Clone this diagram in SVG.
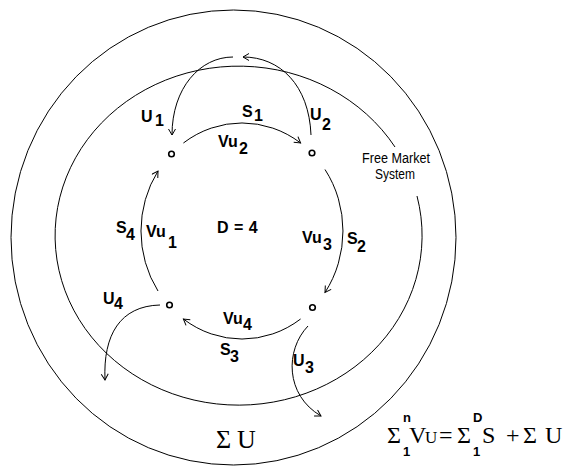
<svg xmlns="http://www.w3.org/2000/svg" width="573" height="468" viewBox="0 0 573 468">
<style>
.ln{fill:none;stroke:#000;stroke-width:1}
.arr{fill:none;stroke:#000;stroke-width:1;marker-end:url(#ah)}
.node{fill:#fff;stroke:#000;stroke-width:1.6}
.lbl{font-family:"Liberation Sans",Arial,sans-serif;font-size:16px;font-weight:bold;fill:#000}
.fm{font-family:"Liberation Sans",Arial,sans-serif;font-size:14px;fill:#000}
.ser{font-family:"Liberation Serif","Times New Roman",serif;fill:#000}
.idx{font-family:"Liberation Sans",Arial,sans-serif;font-weight:bold;font-size:13px;fill:#000}
</style>
<defs>
<marker id="ah" markerWidth="10" markerHeight="10" refX="7" refY="4" orient="auto" markerUnits="userSpaceOnUse">
<path d="M1 0.5 L7 4 L1 7.5" fill="none" stroke="#000" stroke-width="1"/>
</marker>
</defs>
<rect width="573" height="468" fill="#fff"/>
<g id="sum-u-region">
<ellipse class="ln" cx="233.5" cy="237.5" rx="222.5" ry="227.5"/>
<text class="ser" x="216" y="448" font-size="26">Σ</text>
<text class="ser" x="237" y="448" font-size="26">U</text>
</g>
<g id="free-market-system">
<path class="ln" d="M395 147 A183.5 169.5 0 1 0 417 196"/>
<text class="fm" x="362" y="163" textLength="68" lengthAdjust="spacingAndGlyphs">Free Market</text>
<text class="fm" x="375" y="179" textLength="40" lengthAdjust="spacingAndGlyphs">System</text>
</g>
<g id="connectors">
<path class="arr" d="M183.4 143 A101 108 0 0 1 300.6 143"/>
<path class="arr" d="M325 169.5 A101 108 0 0 1 325 292.5"/>
<path class="arr" d="M300.6 319 A101 108 0 0 1 183.4 319"/>
<path class="arr" d="M158 291 A101 108 0 0 1 158 171"/>
<path class="arr" d="M311 135 C309 85 280 57 243 57"/>
<path class="arr" d="M233 57 C200 57 172 88 172 135"/>
<path class="arr" d="M160 305 C120 306 103 335 105 380"/>
<path class="arr" d="M308 326 C285 350 285 395 321 416"/>
<g id="connector-labels">
<text class="lbl" x="242" y="117">S</text><text class="lbl" x="254" y="121">1</text>
<text class="lbl" x="218" y="147">Vu</text><text class="lbl" x="239" y="154">2</text>
<text class="lbl" x="141" y="122">U</text><text class="lbl" x="155" y="126">1</text>
<text class="lbl" x="310" y="120">U</text><text class="lbl" x="322" y="130">2</text>
<text class="lbl" x="302" y="243">Vu</text><text class="lbl" x="323" y="250">3</text>
<text class="lbl" x="347" y="244">S</text><text class="lbl" x="357" y="252">2</text>
<text class="lbl" x="223" y="324">Vu</text><text class="lbl" x="243" y="330">4</text>
<text class="lbl" x="220" y="355">S</text><text class="lbl" x="230" y="362">3</text>
<text class="lbl" x="293" y="366">U</text><text class="lbl" x="305" y="373">3</text>
<text class="lbl" x="103" y="304">U</text><text class="lbl" x="114" y="309">4</text>
<text class="lbl" x="116" y="233">S</text><text class="lbl" x="126" y="240">4</text>
<text class="lbl" x="146" y="237">Vu</text><text class="lbl" x="168" y="248">1</text>
</g>
</g>
<g id="node-1"><circle class="node" cx="171.5" cy="154" r="2.8"/></g>
<g id="node-2"><circle class="node" cx="312" cy="153" r="2.8"/></g>
<g id="node-3"><circle class="node" cx="312.5" cy="307.5" r="2.8"/></g>
<g id="node-4"><circle class="node" cx="169.5" cy="305" r="2.8"/></g>
<g id="center-label"><text class="lbl" x="217" y="233" word-spacing="1">D = 4</text></g>
<g id="formula">
<text class="ser" x="387" y="443" font-size="24">Σ</text>
<text class="idx" x="403" y="422">n</text>
<text class="idx" x="403" y="456">1</text>
<text class="ser" x="409" y="443" font-size="24">V</text>
<text class="ser" x="425" y="443" font-size="17">U</text>
<text class="ser" x="439" y="443" font-size="24">=</text>
<text class="ser" x="457" y="443" font-size="24">Σ</text>
<text class="idx" x="473" y="422">D</text>
<text class="idx" x="473" y="456">1</text>
<text class="ser" x="482" y="443" font-size="24">S</text>
<text class="ser" x="506" y="443" font-size="24">+</text>
<text class="ser" x="523" y="443" font-size="24">Σ</text>
<text class="ser" x="545" y="443" font-size="24">U</text>
</g>
</svg>
